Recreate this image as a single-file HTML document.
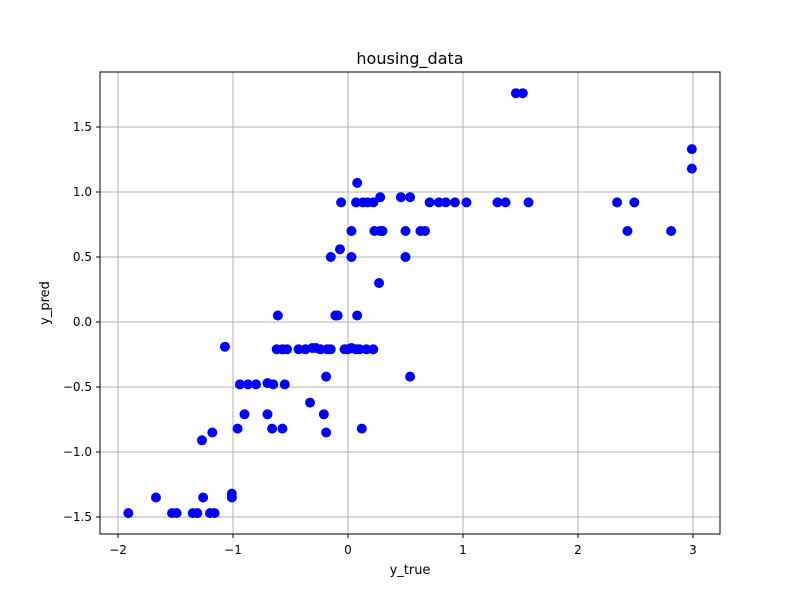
<!DOCTYPE html>
<html><head><meta charset="utf-8"><style>body{margin:0;background:#fff}svg{display:block;font-family:"DejaVu Sans","Liberation Sans",sans-serif}</style></head>
<body>
<svg id="chart" width="800" height="600" xmlns="http://www.w3.org/2000/svg">
<rect width="800" height="600" fill="#fff"/>
<g id="grid"></g>
<g id="pts"></g>
<rect x="100" y="72" width="620" height="462" fill="none" stroke="#000" stroke-width="1"/>
<g id="ticks"></g>
<text x="410" y="64" font-size="16" text-anchor="middle">housing_data</text>
<text x="410" y="574" font-size="13" text-anchor="middle">y_true</text>
<text transform="translate(49,303) rotate(-90)" font-size="13" text-anchor="middle">y_pred</text>
</svg>
<script>
const xTicks=[-2,-1,0,1,2,3];
const yTicks=[-1.5,-1,-0.5,0,0.5,1,1.5];
const xVals=[-1.91,-1.67,-1.53,-1.49,-1.35,-1.31,-1.2,-1.16,-1.26,-1.27,-1.18,-1.07,-1.01,-1.01,-0.96,-0.94,-0.87,-0.8,-0.9,-0.7,-0.65,-0.7,-0.66,-0.61,-0.62,-0.57,-0.53,-0.57,-0.55,-0.43,-0.37,-0.33,-0.31,-0.28,-0.24,-0.18,-0.21,-0.19,-0.19,-0.15,-0.15,-0.11,-0.09,-0.07,-0.06,-0.03,0,0.03,0.07,0.03,0.03,0.08,0.07,0.13,0.17,0.08,0.12,0.1,0.16,0.22,0.22,0.23,0.28,0.3,0.27,0.28,0.46,0.5,0.5,0.54,0.54,0.63,0.67,0.71,0.79,0.85,0.93,1.03,1.3,1.37,1.46,1.52,1.57,2.34,2.43,2.49,2.81,2.99,2.99];
const yVals=[-1.47,-1.35,-1.47,-1.47,-1.47,-1.47,-1.47,-1.47,-1.35,-0.91,-0.85,-0.19,-1.32,-1.35,-0.82,-0.48,-0.48,-0.48,-0.71,-0.47,-0.48,-0.71,-0.82,0.05,-0.21,-0.21,-0.21,-0.82,-0.48,-0.21,-0.21,-0.62,-0.2,-0.2,-0.21,-0.21,-0.71,-0.42,-0.85,-0.21,0.5,0.05,0.05,0.56,0.92,-0.21,-0.21,-0.2,-0.21,0.7,0.5,1.07,0.92,0.92,0.92,0.05,-0.82,-0.21,-0.21,-0.21,0.92,0.7,0.7,0.7,0.3,0.96,0.96,0.7,0.5,0.96,-0.42,0.7,0.7,0.92,0.92,0.92,0.92,0.92,0.92,0.92,1.76,1.76,0.92,0.92,0.7,0.92,0.7,1.33,1.18];
const X=v=>348+v*115, Y=v=>322-v*130;
const NS="http://www.w3.org/2000/svg";
const grid=document.getElementById('grid'),ticks=document.getElementById('ticks'),pts=document.getElementById('pts');
function mk(t,a,p){const e=document.createElementNS(NS,t);for(const k in a)e.setAttribute(k,a[k]);p.appendChild(e);return e;}
xTicks.forEach(v=>{const x=X(v);
 const g=mk('line',{x1:x,x2:x,y1:72,y2:534,stroke:'#b0b0b0','stroke-width':1},grid);
 
 
 const t=mk('line',{x1:x,x2:x,y1:534,y2:538,stroke:'#000'},ticks);
 
 
 const l=mk('text',{x:x,y:554,'font-size':12,'text-anchor':'middle'},ticks);l.textContent=String(v).replace('-','\u2212');
 
 });
yTicks.forEach(v=>{const y=Y(v);
 const g=mk('line',{x1:100,x2:720,y1:y,y2:y,stroke:'#b0b0b0','stroke-width':1},grid);
 
 
 const t=mk('line',{x1:96,x2:100,y1:y,y2:y,stroke:'#000'},ticks);
 
 
 const l=mk('text',{x:92,y:y+4,'font-size':12,'text-anchor':'end'},ticks);l.textContent=v.toFixed(1).replace('-','\u2212');
 
 });
xVals.forEach((v,i)=>{const c=mk('circle',{cx:X(v),cy:Y(yVals[i]),r:5,fill:'#0000ff'},pts);
 
 });
</script>
</body></html>
